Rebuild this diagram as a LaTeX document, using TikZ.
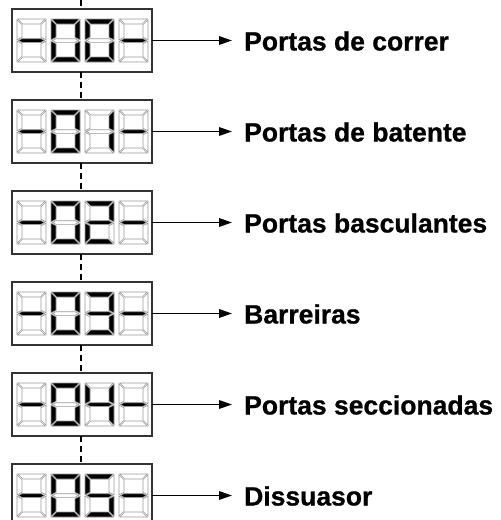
\documentclass[tikz,border=0pt]{standalone}
\usepackage{fontspec}
\setmainfont{Liberation Sans}[BoldFeatures={FakeBold=0.8}]
\usetikzlibrary{arrows.meta}
\tikzset{
 segon/.style={fill=black,draw=black!40,line width=0.6pt},
 segoff/.style={fill=white,draw=black!40,line width=0.6pt},
 dispbox/.style={draw=black!80,line width=2.4pt,fill=white,minimum width=140pt,minimum height=63pt,inner sep=0pt,outer sep=0pt},
 lab/.style={anchor=west,inner sep=0pt,text height=19pt,text depth=0pt,font=\fontsize{26.5}{30}\selectfont\bfseries},
 arr/.style={line width=1.7pt,-{Triangle[length=13pt,width=8.5pt]},shorten >=12pt},
 guide/.style={line width=1.3pt,dash pattern=on 6pt off 4pt}
}
\newcommand\sevseg[9]{%
 \begin{scope}[shift={(#1,#2)}]
  \draw[#3] (0.7,0)--(28.3,0)--(23.3,5)--(5.7,5)--cycle;
  \draw[#4] (29,0.7)--(29,20.8)--(24,18.3)--(24,5.7)--cycle;
  \draw[#5] (29,22.2)--(29,42.3)--(24,37.3)--(24,24.7)--cycle;
  \draw[#6] (0.7,43)--(28.3,43)--(23.3,38)--(5.7,38)--cycle;
  \draw[#7] (0,22.2)--(0,42.3)--(5,37.3)--(5,24.7)--cycle;
  \draw[#8] (0,0.7)--(0,20.8)--(5,18.3)--(5,5.7)--cycle;
  \draw[#9] (1.4,21.5)--(5,19.7)--(24,19.7)--(27.6,21.5)--(24,23.3)--(5,23.3)--cycle;
 \end{scope}}
\newcommand\segdash[2]{\sevseg{#1}{#2}{segoff}{segoff}{segoff}{segoff}{segoff}{segoff}{segon}}
\newcommand\segzero[2]{\sevseg{#1}{#2}{segon}{segon}{segon}{segon}{segon}{segon}{segoff}}
\newcommand\segone[2]{\sevseg{#1}{#2}{segoff}{segon}{segon}{segoff}{segoff}{segoff}{segoff}}
\newcommand\segtwo[2]{\sevseg{#1}{#2}{segon}{segon}{segoff}{segon}{segon}{segoff}{segon}}
\newcommand\segthree[2]{\sevseg{#1}{#2}{segon}{segon}{segon}{segon}{segoff}{segoff}{segon}}
\newcommand\segfour[2]{\sevseg{#1}{#2}{segoff}{segon}{segon}{segoff}{segoff}{segon}{segon}}
\newcommand\segfive[2]{\sevseg{#1}{#2}{segon}{segoff}{segon}{segon}{segoff}{segon}{segon}}
\begin{document}
\begin{tikzpicture}[x=1pt,y=-1pt]
\clip (0,0) rectangle (501,520);
\fill[white] (0,0) rectangle (501,520);
\foreach \i/\yc/\D/\txt in {1/40.5/\segzero/Portas de correr,
  2/131.5/\segone/Portas de batente,
  3/222.5/\segtwo/Portas basculantes,
  4/313.5/\segthree/Barreiras,
  5/404.5/\segfour/Portas seccionadas,
  6/495.5/\segfive/Dissuasor}{
  \node[dispbox] (b\i) at (82,\yc) {};
  \segdash{17}{\yc-21.5}
  \segzero{51}{\yc-21.5}
  \D{85}{\yc-21.5}
  \segdash{119}{\yc-21.5}
  \node[lab] (l\i) at (244,\yc+0.5) {\txt};
  \draw[arr] (b\i.east) -- (b\i.east -| l\i.west);
}
\coordinate (top) at (81,0);
\draw[guide] (top) -- ([xshift=-1pt]b1.north);
\foreach \a/\b in {1/2,2/3,3/4,4/5,5/6}{
  \draw[guide] ([xshift=-1pt]b\a.south) -- ([xshift=-1pt]b\b.north);
}
\end{tikzpicture}
\end{document}
